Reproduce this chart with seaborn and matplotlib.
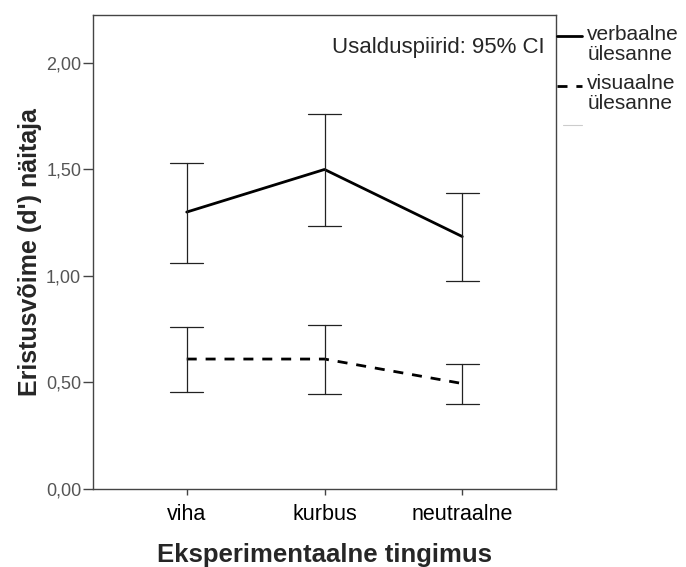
import numpy as np
import pandas as pd
import matplotlib.pyplot as plt
import seaborn as sns
from matplotlib.lines import Line2D
from matplotlib.legend_handler import HandlerLine2D
from matplotlib.ticker import FuncFormatter

# andmed graafikult loetud
tingimused = ['viha', 'kurbus', 'neutraalne']
verbaalne_kesk = [1.30, 1.50, 1.185]
verbaalne_alum = [1.06, 1.235, 0.975]
verbaalne_ulem = [1.53, 1.76, 1.39]
visuaalne_kesk = [0.61, 0.61, 0.495]
visuaalne_alum = [0.455, 0.447, 0.40]
visuaalne_ulem = [0.76, 0.77, 0.585]
ylesanded = ['verbaalne ülesanne', 'visuaalne ülesanne']

# pikk tabel: alumine piir, keskmine, ülemine piir -> mediaan + 100% vahemik
rows = []
for nimi, kesk, alum, ulem in [(ylesanded[0], verbaalne_kesk, verbaalne_alum, verbaalne_ulem),
                               (ylesanded[1], visuaalne_kesk, visuaalne_alum, visuaalne_ulem)]:
    for i, t in enumerate(tingimused):
        for v in (alum[i], kesk[i], ulem[i]):
            rows.append({'tingimus': t, 'ylesanne': nimi, 'd': v})
df = pd.DataFrame(rows)


# legendi joon esimese tekstirea kõrgusele
class UlemineJoon(HandlerLine2D):
    def create_artists(self, legend, orig_handle, xdescent, ydescent, width, height, fontsize, trans):
        arts = super().create_artists(legend, orig_handle, xdescent, ydescent, width, height, fontsize, trans)
        for a in arts:
            a.set_ydata(np.asarray(a.get_ydata()) + fontsize * 0.38)
        return arts


sns.set_style('white')
plt.rcParams['font.family'] = ['Liberation Sans', 'DejaVu Sans']

fig = plt.figure(figsize=(6.86, 5.67), dpi=100)
ax = fig.add_axes([0.1356, 0.1376, 0.8105 - 0.1356, 0.9735 - 0.1376])

sns.pointplot(data=df, x='tingimus', y='d', hue='ylesanne', order=tingimused,
              hue_order=ylesanded, estimator='median', errorbar=('pi', 100),
              palette=['black', 'black'], markers=['', ''], linestyles=['-', (0, (3.6, 3.2))],
              dodge=False, capsize=0.24, err_kws={'linewidth': 0.9, 'color': '#222222'},
              linewidth=2.0, legend=False, ax=ax)

ax.set_xlim(-0.68, 2.68)
ax.set_ylim(0, 2.225)
ax.set_yticks([0, 0.5, 1.0, 1.5, 2.0])
ax.yaxis.set_major_formatter(FuncFormatter(lambda v, p: ('%.2f' % v).replace('.', ',')))

for s in ax.spines.values():
    s.set_color('#444444')
    s.set_linewidth(1.0)
ax.tick_params(axis='x', bottom=True, direction='out', length=4.5, width=1, color='#444444',
               labelsize=15.5, labelcolor='black', pad=6)
ax.tick_params(axis='y', left=True, direction='out', length=7.5, width=1, color='#444444',
               labelsize=13, labelcolor='#555555', pad=1)

ax.set_xlabel('Eksperimentaalne tingimus', fontsize=18.5, fontweight='bold', labelpad=13)
ax.set_ylabel("Eristusvõime (d') näitaja", fontsize=18, fontweight='bold', labelpad=3)

ax.text(0.976, 0.92, 'Usalduspiirid: 95% CI', transform=ax.transAxes,
        ha='right', va='baseline', fontsize=16)

handles = [Line2D([], [], color='black', lw=2.0, ls='-'),
           Line2D([], [], color='black', lw=2.0, ls=(0, (3.6, 3.2)))]
leg = ax.legend(handles, ['verbaalne\nülesanne', 'visuaalne\nülesanne'],
                loc='upper left', bbox_to_anchor=(1.002, 0.98), frameon=False,
                borderaxespad=0, borderpad=0, handlelength=1.2, handletextpad=0.25,
                labelspacing=0.5, fontsize=15, handler_map={Line2D: UlemineJoon()})
for t in leg.get_texts():
    t.set_linespacing(1.08)
fig.lines.append(Line2D([0.821, 0.848], [0.779, 0.779], transform=fig.transFigure,
                        color='#cccccc', lw=0.8))

fig.savefig('out.png', dpi=100)
